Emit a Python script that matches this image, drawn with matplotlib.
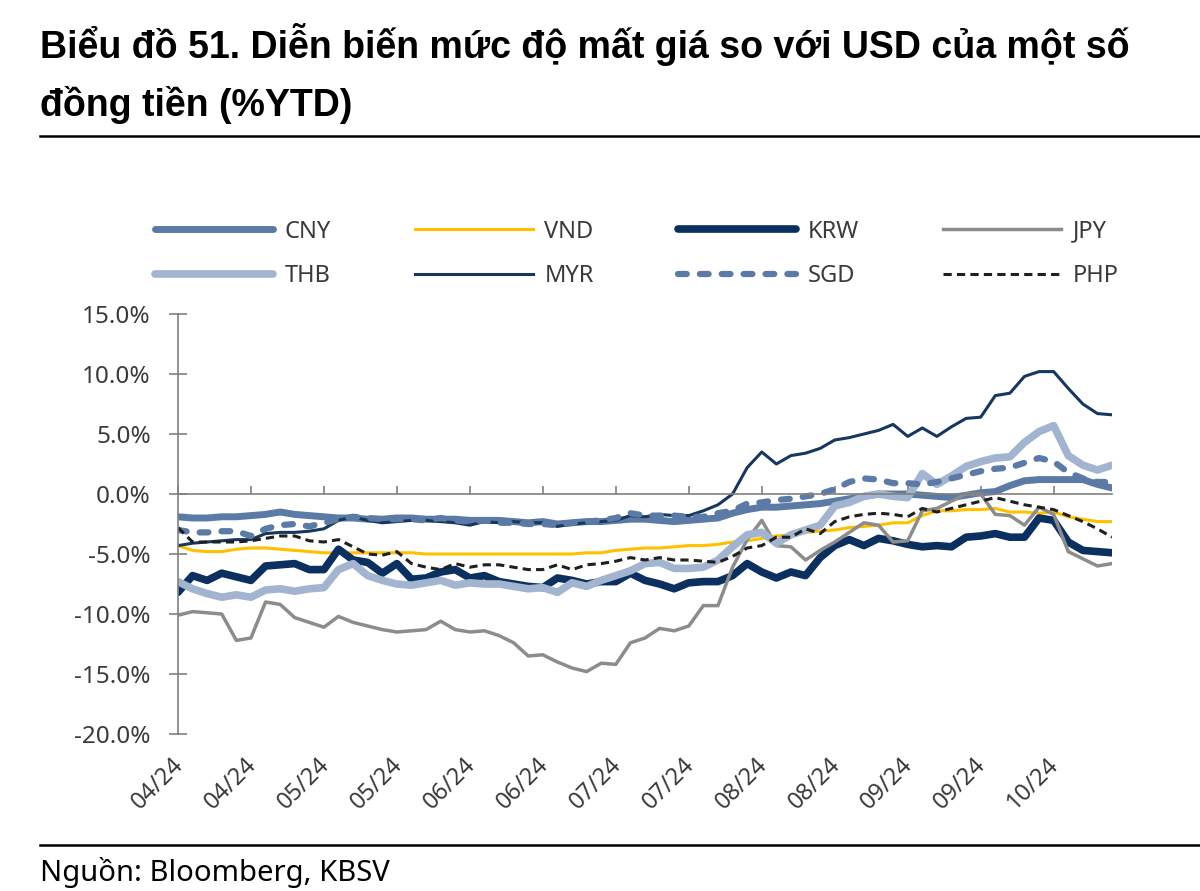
import matplotlib
matplotlib.use("Agg")
import matplotlib.pyplot as plt
from matplotlib.lines import Line2D
import numpy as np

plt.rcParams['font.family'] = ['Noto Sans', 'DejaVu Sans']

# nhan truc x, moi nhan cach 5 diem du lieu
tick_labels = ["04/24", "04/24", "05/24", "05/24", "06/24", "06/24", "07/24",
               "07/24", "08/24", "08/24", "09/24", "09/24", "10/24"]
tick_step = 5

cny = [-1.9, -2.0, -2.0, -1.9, -1.9, -1.8, -1.7, -1.5, -1.7, -1.8,
       -1.9, -2.0, -2.0, -2.1, -2.1, -2.0, -2.0, -2.1, -2.1, -2.1,
       -2.2, -2.2, -2.2, -2.3, -2.4, -2.3, -2.5, -2.4, -2.3, -2.3,
       -2.2, -2.1, -2.1, -2.2, -2.3, -2.2, -2.1, -2.0, -1.6, -1.3,
       -1.1, -1.1, -1.0, -0.9, -0.8, -0.6, -0.4, -0.2, 0.0, 0.0,
       0.0, -0.1, -0.2, -0.3, -0.1, 0.1, 0.2, 0.7, 1.1, 1.2,
       1.2, 1.2, 1.2, 0.8, 0.5]
vnd = [-4.3, -4.7, -4.8, -4.8, -4.6, -4.5, -4.5, -4.6, -4.7, -4.8,
       -4.9, -4.9, -4.9, -4.9, -4.9, -4.9, -4.9, -5.0, -5.0, -5.0,
       -5.0, -5.0, -5.0, -5.0, -5.0, -5.0, -5.0, -5.0, -4.9, -4.9,
       -4.7, -4.6, -4.5, -4.5, -4.4, -4.3, -4.3, -4.2, -4.0, -3.9,
       -3.7, -3.5, -3.4, -3.2, -3.1, -3.0, -2.8, -2.7, -2.6, -2.4,
       -2.4, -1.8, -1.4, -1.4, -1.3, -1.3, -1.2, -1.5, -1.5, -1.6,
       -1.5, -1.9, -2.1, -2.3, -2.3]
krw = [-8.2, -6.8, -7.2, -6.6, -6.9, -7.2, -6.0, -5.9, -5.8, -6.3,
       -6.3, -4.6, -5.5, -5.7, -6.6, -5.8, -7.1, -7.0, -6.5, -6.3,
       -7.0, -6.8, -7.3, -7.5, -7.7, -7.8, -7.0, -7.2, -7.5, -7.3,
       -7.3, -6.6, -7.2, -7.5, -7.9, -7.4, -7.3, -7.3, -6.8, -5.8,
       -6.5, -7.0, -6.5, -6.8, -5.3, -4.3, -3.8, -4.3, -3.7, -3.9,
       -4.2, -4.4, -4.3, -4.4, -3.6, -3.5, -3.3, -3.6, -3.6, -2.0,
       -2.2, -4.0, -4.7, -4.8, -4.9]
jpy = [-10.1, -9.8, -9.9, -10.0, -12.2, -12.0, -9.0, -9.2, -10.3, -10.7,
       -11.1, -10.2, -10.7, -11.0, -11.3, -11.5, -11.4, -11.3, -10.6, -11.3,
       -11.5, -11.4, -11.8, -12.4, -13.5, -13.4, -14.0, -14.5, -14.8, -14.1,
       -14.2, -12.4, -12.0, -11.2, -11.4, -11.0, -9.3, -9.3, -6.1, -3.8,
       -2.2, -4.3, -4.4, -5.5, -4.7, -4.0, -3.2, -2.4, -2.6, -4.0,
       -3.9, -1.4, -1.2, -0.6, 0.0, 0.0, -1.7, -1.8, -2.6, -1.1,
       -1.7, -4.8, -5.4, -6.0, -5.8]
thb = [-7.3, -7.9, -8.3, -8.6, -8.4, -8.6, -8.0, -7.9, -8.1, -7.9,
       -7.8, -6.3, -5.8, -6.8, -7.2, -7.5, -7.6, -7.4, -7.2, -7.6,
       -7.4, -7.5, -7.5, -7.7, -7.9, -7.8, -8.2, -7.4, -7.7, -7.2,
       -6.8, -6.4, -5.8, -5.7, -6.2, -6.2, -6.1, -5.5, -4.4, -3.4,
       -3.2, -4.1, -3.4, -3.0, -2.6, -1.0, -0.7, -0.2, 0.0, -0.2,
       -0.3, 1.7, 0.8, 1.5, 2.3, 2.7, 3.0, 3.1, 4.3, 5.2,
       5.7, 3.2, 2.4, 2.0, 2.4]
myr = [-4.3, -4.1, -4.0, -3.9, -3.8, -3.8, -3.3, -3.2, -3.2, -3.1,
       -2.9, -2.2, -1.9, -2.2, -2.4, -2.3, -2.2, -2.2, -2.3, -2.4,
       -2.6, -2.3, -2.4, -2.3, -2.4, -2.4, -2.7, -2.5, -2.4, -2.3,
       -2.2, -1.8, -1.9, -1.7, -1.8, -1.8, -1.4, -0.9, 0.0, 2.2,
       3.5, 2.5, 3.2, 3.4, 3.8, 4.5, 4.7, 5.0, 5.3, 5.8,
       4.8, 5.5, 4.8, 5.6, 6.3, 6.4, 8.2, 8.4, 9.8, 10.2,
       10.2, 8.8, 7.5, 6.7, 6.6]
sgd = [-3.0, -3.2, -3.2, -3.1, -3.1, -3.5, -2.9, -2.6, -2.5, -2.7,
       -2.4, -2.1, -1.9, -2.0, -2.1, -2.1, -2.1, -2.2, -2.0, -2.2,
       -2.3, -2.2, -2.4, -2.4, -2.5, -2.5, -2.6, -2.4, -2.3, -2.2,
       -2.0, -1.6, -1.8, -1.8, -1.8, -1.9, -1.9, -1.6, -1.4, -0.8,
       -0.7, -0.5, -0.4, -0.2, 0.0, 0.4, 1.0, 1.3, 1.2, 0.9,
       0.9, 0.8, 1.0, 1.3, 1.6, 1.9, 2.1, 2.2, 2.6, 3.0,
       2.7, 1.8, 1.3, 1.0, 1.0]
php = [-2.8, -4.0, -4.0, -4.0, -4.0, -3.9, -3.7, -3.5, -3.5, -3.9,
       -4.0, -3.8, -4.4, -5.0, -5.1, -4.8, -5.8, -6.1, -6.3, -5.8,
       -6.1, -5.9, -5.9, -6.1, -6.3, -6.3, -5.9, -6.3, -5.9, -5.8,
       -5.6, -5.3, -5.5, -5.3, -5.5, -5.5, -5.6, -5.7, -5.2, -4.5,
       -4.3, -3.6, -3.6, -2.9, -3.3, -2.3, -1.9, -1.7, -1.6, -1.7,
       -1.9, -1.2, -1.5, -1.2, -0.9, -0.6, -0.3, -0.6, -0.9, -1.1,
       -1.3, -1.8, -2.3, -2.9, -3.6]

fig = plt.figure(figsize=(12, 8.91), dpi=100)
ax = fig.add_axes([0.1483, 0.1762, 0.7784, 0.4714])

x = np.arange(len(cny))

l_cny, = ax.plot(x, cny, color="#5B7BA6", lw=5, solid_capstyle="round", label="CNY")
l_vnd, = ax.plot(x, vnd, color="#FFC000", lw=2.2, label="VND")
l_krw, = ax.plot(x, krw, color="#0B2F5E", lw=5.5, solid_capstyle="round", label="KRW")
l_jpy, = ax.plot(x, jpy, color="#8C8C8C", lw=2.5, label="JPY")
l_thb, = ax.plot(x, thb, color="#A2B4CF", lw=5.5, solid_capstyle="round", label="THB")
l_myr, = ax.plot(x, myr, color="#17375E", lw=2.2, label="MYR")
l_sgd, = ax.plot(x, sgd, color="#5B7BA6", lw=4.5, ls=(0, (1.4, 2.1)),
                 dash_capstyle="round", label="SGD")
l_php, = ax.plot(x, php, color="#1F1F1F", lw=2.2, ls=(0, (2.7, 1.7)), label="PHP")

ax.set_xlim(0, len(cny) - 1)
ax.set_ylim(-20, 15)

for s in ["top", "right"]:
    ax.spines[s].set_visible(False)
ax.spines["left"].set_color("#808080")
ax.spines["left"].set_linewidth(1.2)
ax.spines["bottom"].set_position(("data", 0))
ax.spines["bottom"].set_color("#808080")
ax.spines["bottom"].set_linewidth(1.2)

yt = np.arange(-20, 16, 5)
ax.set_yticks(yt)
ax.set_yticklabels([f"{v:.1f}%" for v in yt])
ax.tick_params(axis="y", direction="inout", length=13, width=1.2, color="#808080",
               labelsize=17.5, labelcolor="#3a3a3a", pad=13)

xt = np.arange(len(tick_labels)) * tick_step
ax.set_xticks(xt)
ax.tick_params(axis="x", direction="in", length=6, width=1.2, color="#808080",
               labelbottom=False)
for pos, lab in zip(xt, tick_labels):
    ax.text(pos + 0.7, -0.045, lab, transform=ax.get_xaxis_transform(),
            rotation=45, ha="right", va="top", fontsize=17, color="#3a3a3a")

handles = [l_cny, l_thb, l_vnd, l_myr, l_krw, l_sgd, l_jpy, l_php]
fig.legend(handles, [h.get_label() for h in handles], ncol=4, loc="upper left",
           bbox_to_anchor=(0.121, 0.764), frameon=False, fontsize=17,
           handlelength=5.0, handletextpad=0.5, columnspacing=3.55,
           labelspacing=0.85, borderaxespad=0, labelcolor="#3a3a3a")

title_font = ["Liberation Sans", "DejaVu Sans"]
fig.text(0.0333, 0.9495, "Biểu đồ 51. Diễn biến mức độ mất giá so với USD của một số",
         fontsize=27, fontweight="bold", family=title_font, va="center", ha="left")
fig.text(0.0333, 0.882, "đồng tiền (%YTD)", fontsize=27, fontweight="bold",
         family=title_font, va="center", ha="left")
fig.add_artist(Line2D([0.0333, 1.0], [0.8475, 0.8475], transform=fig.transFigure,
                      color="black", lw=1.8))
fig.add_artist(Line2D([0.0333, 1.0], [0.0516, 0.0516], transform=fig.transFigure,
                      color="black", lw=1.8))
fig.text(0.0333, 0.0213, "Nguồn: Bloomberg, KBSV", fontsize=21, va="center", ha="left")

fig.savefig("out.png", dpi=100)
